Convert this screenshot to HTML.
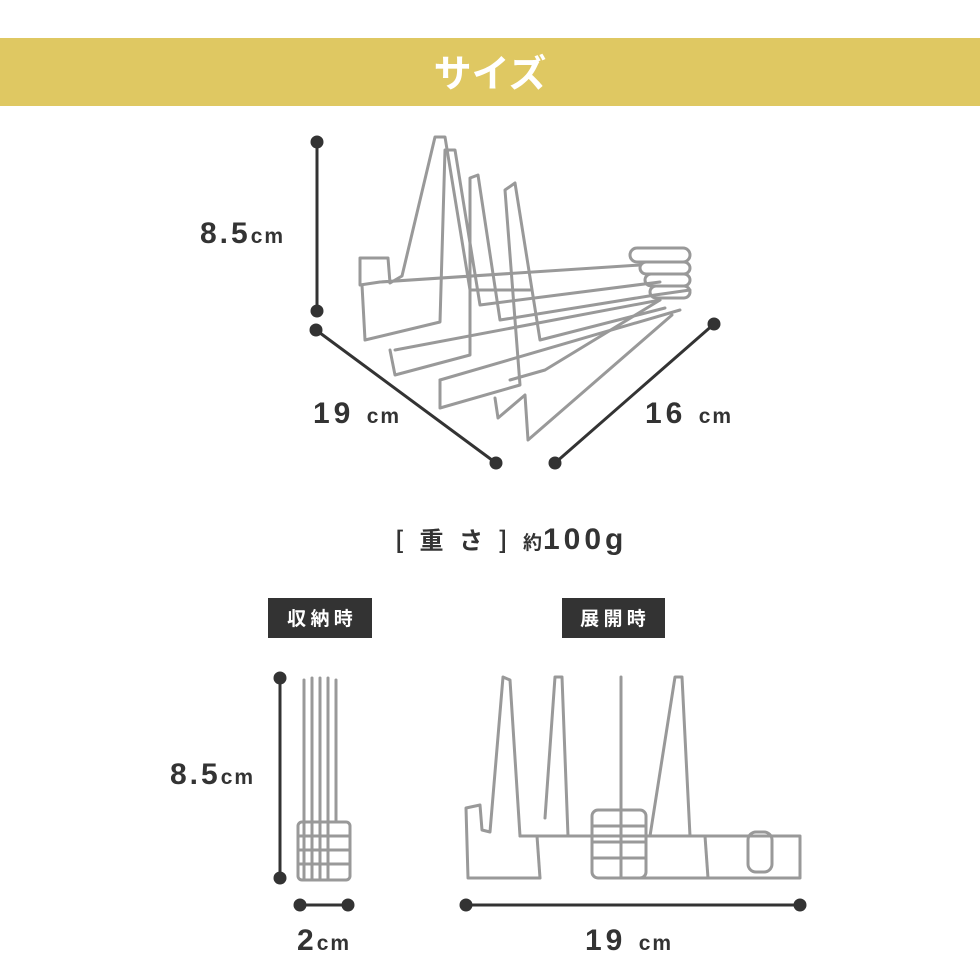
<!DOCTYPE html>
<html><head><meta charset="utf-8"><style>
body{margin:0;width:980px;height:980px;background:#fff;overflow:hidden;font-family:"Liberation Sans","Noto Sans CJK JP",sans-serif}
svg{position:absolute;left:0;top:0}
</style></head><body>
<svg width="980" height="980" viewBox="0 0 980 980" xmlns="http://www.w3.org/2000/svg">
<rect x="0" y="38" width="980" height="68" fill="#dfc862"/>
<text x="490" y="87" font-size="38" font-weight="bold" fill="#fff" text-anchor="middle" font-family="Noto Sans CJK JP,sans-serif">サイズ</text>

<g stroke="#333" stroke-width="3" fill="#333">
<line x1="317" y1="142" x2="317" y2="311"/><circle cx="317" cy="142" r="5"/><circle cx="317" cy="311" r="5"/>
<line x1="316" y1="330" x2="496" y2="463"/><circle cx="316" cy="330" r="5"/><circle cx="496" cy="463" r="5"/>
<line x1="714" y1="324" x2="555" y2="463"/><circle cx="714" cy="324" r="5"/><circle cx="555" cy="463" r="5"/>
<line x1="280" y1="678" x2="280" y2="878"/><circle cx="280" cy="678" r="5"/><circle cx="280" cy="878" r="5"/>
<line x1="300" y1="905" x2="348" y2="905"/><circle cx="300" cy="905" r="5"/><circle cx="348" cy="905" r="5"/>
<line x1="466" y1="905" x2="800" y2="905"/><circle cx="466" cy="905" r="5"/><circle cx="800" cy="905" r="5"/>
</g>

<g fill="#333" font-weight="bold">
<text x="200" y="243" font-size="30" letter-spacing="3">8.5<tspan font-size="21" letter-spacing="2">cm</tspan></text>
<text x="313" y="423" font-size="30" letter-spacing="4">19 <tspan font-size="21" letter-spacing="2">cm</tspan></text>
<text x="645" y="423" font-size="30" letter-spacing="4">16 <tspan font-size="21" letter-spacing="2">cm</tspan></text>
<text x="170" y="784" font-size="30" letter-spacing="3">8.5<tspan font-size="21" letter-spacing="2">cm</tspan></text>
<text x="297" y="950" font-size="30" letter-spacing="3">2<tspan font-size="21" letter-spacing="2">cm</tspan></text>
<text x="585" y="950" font-size="30" letter-spacing="4">19 <tspan font-size="21" letter-spacing="2">cm</tspan></text>
<text x="395" y="549" font-size="24" font-family="Noto Sans CJK JP,sans-serif" letter-spacing="5">[ 重 さ ] <tspan font-size="19" letter-spacing="1">約</tspan><tspan font-family="Liberation Sans" font-size="30" letter-spacing="4">100g</tspan></text>
</g>

<rect x="268" y="598" width="104" height="40" fill="#333"/>
<text x="320" y="625" font-size="19" font-weight="bold" fill="#fff" text-anchor="middle" font-family="Noto Sans CJK JP,sans-serif">収 納 時</text>
<rect x="562" y="598" width="103" height="40" fill="#333"/>
<text x="613" y="625" font-size="19" font-weight="bold" fill="#fff" text-anchor="middle" font-family="Noto Sans CJK JP,sans-serif">展 開 時</text>

<g fill="none" stroke-linejoin="round" stroke-linecap="round">
<g stroke="#999" stroke-width="3">
<polyline points="640,265 380,282 360,285 360,258 388,258 390,283 402,276 435,137 445,137 470,290 530,290"/>
<polyline points="362,285 365,340 440,322 445,150 455,150 480,305 660,282"/>
<polyline points="390,350 395,375 470,355 470,178 478,175 500,320 655,295 690,290"/>
<polyline points="440,380 440,408 520,385 505,190 515,183 540,340 665,308"/>
<polyline points="495,398 498,418 525,395 528,440 672,315"/>
<polyline points="510,380 545,370 660,300"/>
<polyline points="395,350 660,300"/>
<polyline points="440,380 680,310"/>
<rect x="630" y="248" width="60" height="14" rx="7"/>
<rect x="640" y="262" width="50" height="12" rx="6"/>
<rect x="645" y="274" width="45" height="12" rx="6"/>
<rect x="650" y="286" width="40" height="12" rx="6"/>
<line x1="304" y1="680" x2="304" y2="880"/><line x1="312" y1="678" x2="312" y2="880"/>
<line x1="320" y1="678" x2="320" y2="880"/><line x1="328" y1="678" x2="328" y2="880"/>
<line x1="336" y1="680" x2="336" y2="820"/>
<rect x="298" y="822" width="52" height="58" rx="4"/>
<line x1="298" y1="836" x2="350" y2="836"/><line x1="298" y1="850" x2="350" y2="850"/><line x1="298" y1="864" x2="350" y2="864"/>
<polyline points="540,878 468,878 466,808 480,805 482,830 490,832 503,677 510,680 520,836 600,836"/>
<polyline points="545,818 555,677 562,677 568,836"/>
<line x1="621" y1="677" x2="621" y2="878"/>
<polyline points="650,836 675,677 682,677 690,836 800,836 800,878 620,878"/>
<polyline points="537,836 540,878"/><polyline points="705,836 708,878"/>
<rect x="748" y="832" width="24" height="40" rx="8"/>
<rect x="592" y="810" width="54" height="68" rx="6"/>
<line x1="592" y1="826" x2="646" y2="826"/><line x1="592" y1="842" x2="646" y2="842"/><line x1="592" y1="858" x2="646" y2="858"/>
<line x1="520" y1="836" x2="750" y2="836"/>
</g>
</g>
</svg>
</body></html>
